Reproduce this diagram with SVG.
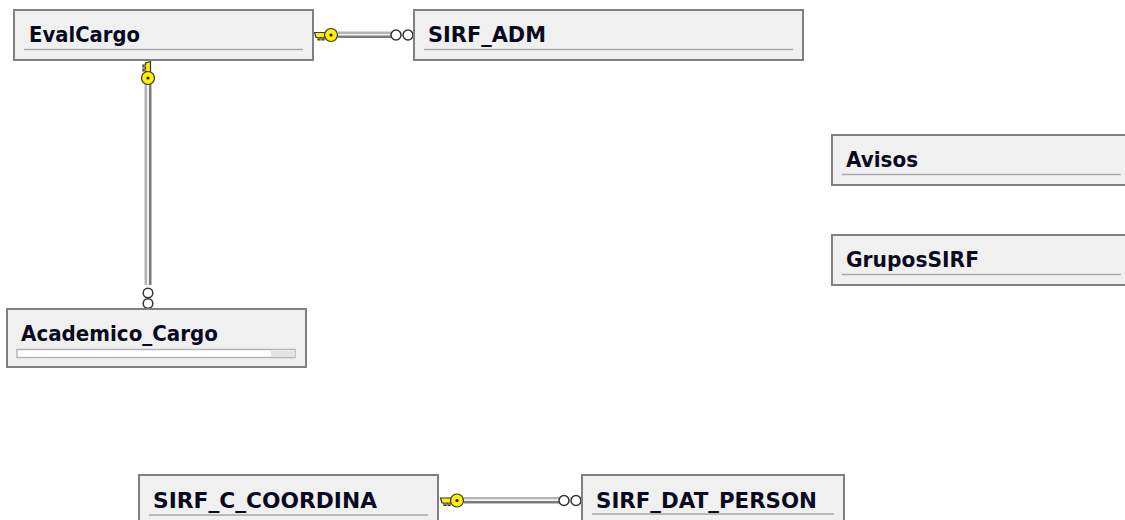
<svg xmlns="http://www.w3.org/2000/svg" width="1125" height="520" viewBox="0 0 1125 520">
<style>
.box{fill:#f0f0f0;stroke:#808080;stroke-width:2}
.rule{stroke:#a8a8a8;stroke-width:1.500;fill:none}
.t{font-family:"DejaVu Sans",Verdana,sans-serif;font-weight:700;font-size:20.500px;fill:#0a0a1e}
.ring{fill:#fff;stroke:#333;stroke-width:1.500}
.key{fill:#ffee00;stroke:#333;stroke-width:1.200}
.a{fill:#b4b4b4}.b{fill:#f2f2f2}.c{fill:#7c7c7c}
</style>
<defs>
<g id="keyH">
<path class="key" d="M-16.500,-2.500H-5V2H-7V5H-9V2.500H-11V5H-13V2.500H-15Z"/>
<circle class="key" cx="0" cy="0" r="6.500"/>
<circle cx="0" cy="0" r="1.600" fill="#222"/>
</g>
<g id="ringsH">
<circle class="ring" cx="5" cy="0" r="5"/>
<circle class="ring" cx="17" cy="0" r="5"/>
</g>
</defs>
<g id="connectors">
<g id="c1">
<rect class="a" x="338" y="31.500" width="53" height="2.500"/><rect class="b" x="338" y="34" width="53" height="1.500"/><rect class="c" x="338" y="35.500" width="53" height="2.500"/>
<use href="#keyH" x="331" y="35"/>
<use href="#ringsH" x="391" y="35"/>
</g>
<g id="c2">
<rect class="a" x="144.500" y="84" width="2.500" height="201"/><rect class="b" x="147" y="84" width="2" height="201"/><rect class="c" x="149" y="84" width="2.500" height="201"/>
<use href="#keyH" transform="translate(148,78) rotate(90)"/>
<circle class="ring" cx="148" cy="293" r="4.800"/>
<circle class="ring" cx="148" cy="303.500" r="4.800"/>
</g>
<g id="c3">
<rect class="a" x="464" y="497" width="95" height="2.500"/><rect class="b" x="464" y="499.500" width="95" height="1.500"/><rect class="c" x="464" y="501" width="95" height="2.500"/>
<use href="#keyH" x="457" y="500.500"/>
<use href="#ringsH" x="559" y="500.500"/>
</g>
</g>
<g id="EvalCargo"><rect class="box" x="14" y="10" width="299" height="50"/><path class="rule" d="M24,49.500H303"/><text class="t" x="29" y="42" textLength="111" lengthAdjust="spacingAndGlyphs">EvalCargo</text></g>
<g id="SIRF_ADM"><rect class="box" x="414" y="10" width="389" height="50"/><path class="rule" d="M424,49.500H793"/><text class="t" x="428" y="42" textLength="118" lengthAdjust="spacingAndGlyphs">SIRF_ADM</text></g>
<g id="Academico_Cargo"><rect class="box" x="7" y="309" width="299" height="58"/><rect x="17" y="349.500" width="278" height="8" fill="#fff" stroke="#b4b4b4" stroke-width="1.500"/><rect x="271" y="350.500" width="24" height="6.500" fill="#e4e4e4"/><text class="t" x="21" y="341" textLength="197" lengthAdjust="spacingAndGlyphs">Academico_Cargo</text></g>
<g id="Avisos"><rect class="box" x="832" y="135" width="300" height="50"/><path class="rule" d="M842,174.500H1121"/><text class="t" x="846" y="167" textLength="72" lengthAdjust="spacingAndGlyphs">Avisos</text></g>
<g id="GruposSIRF"><rect class="box" x="832" y="235" width="300" height="50"/><path class="rule" d="M842,274.500H1121"/><text class="t" x="846" y="267" textLength="133" lengthAdjust="spacingAndGlyphs">GruposSIRF</text></g>
<g id="SIRF_C_COORDINA"><rect class="box" x="139" y="475" width="299" height="55"/><path class="rule" d="M149,515H428"/><text class="t" x="153" y="508" textLength="224" lengthAdjust="spacingAndGlyphs">SIRF_C_COORDINA</text></g>
<g id="SIRF_DAT_PERSON"><rect class="box" x="582" y="475" width="262" height="55"/><path class="rule" d="M592,514H834"/><text class="t" x="596" y="508" textLength="221" lengthAdjust="spacingAndGlyphs">SIRF_DAT_PERSON</text></g>
</svg>
